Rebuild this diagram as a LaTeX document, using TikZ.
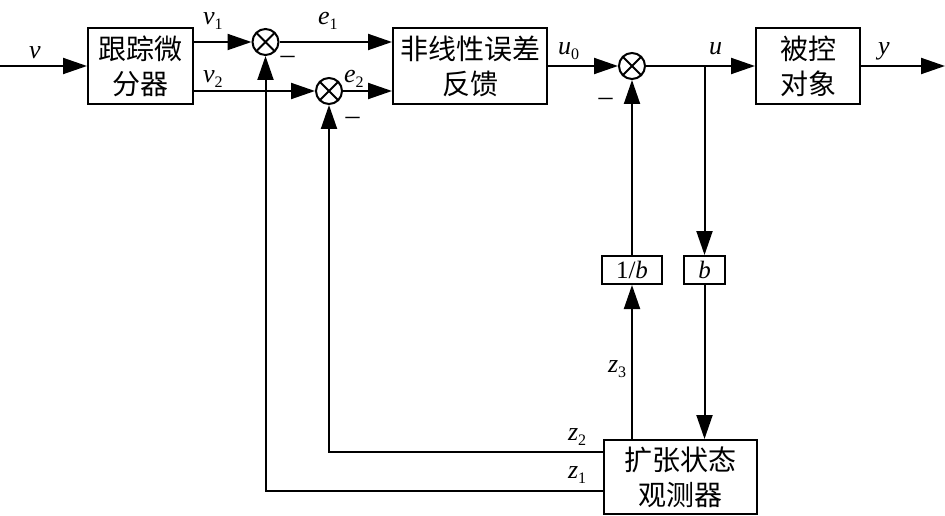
\documentclass[tikz,border=0pt]{standalone}
\usepackage{fontspec}
\setmainfont{Liberation Serif}
\newfontfamily\cjk{Noto Sans CJK SC}
\usetikzlibrary{arrows.meta,calc}
\newcommand\lab[2]{{\fontsize{26}{26}\selectfont\itshape #1}\raisebox{-5pt}{\fontsize{16}{16}\selectfont #2}}
\begin{document}
\begin{tikzpicture}[x=1pt,y=-1pt, line width=2pt,
 blk/.style={draw, inner sep=0pt, align=center, font=\cjk\fontsize{28}{35}\selectfont},
 sumnode/.style={circle, draw, minimum size=26pt, inner sep=0pt,
   path picture={\draw[line width=2pt] (path picture bounding box.north west)--(path picture bounding box.south east)
     (path picture bounding box.north east)--(path picture bounding box.south west);}},
 gain/.style={draw, inner sep=0pt, minimum height=28pt, font=\fontsize{25}{25}\selectfont},
 sig/.style={-{Triangle[length=24pt,width=16pt]}},
 lbl/.style={anchor=base west, inner sep=0pt},
 mn/.style={anchor=base, inner sep=0pt, font=\fontsize{28}{28}\selectfont}]
\useasboundingbox (0,0) rectangle (945,516);

\node[blk, minimum width=105pt, minimum height=76pt] (box1) at (140.5,66) {跟踪微\\分器};
\node[blk, minimum width=154pt, minimum height=76pt] (box2) at (470,66) {非线性误差\\反馈};
\node[blk, minimum width=104pt, minimum height=76pt] (box3) at (808,66) {被控\\对象};
\node[blk, minimum width=153pt, minimum height=74pt] (box4) at (680.5,477) {扩张状态\\观测器};

\node[sumnode] (sum1) at (265.5,42) {};
\node[sumnode] (sum2) at (329,91) {};
\node[sumnode] (sum3) at (632,66) {};

\node[gain, minimum width=60pt] (inv) at (632,270) {1/\textit{b}};
\node[gain, minimum width=41pt] (bb) at (704.5,270) {\textit{b}};

\coordinate (in) at (0,66);
\coordinate (out) at (945,66);
\coordinate (br) at (704.5,66);

% forward path
\draw[sig] (in) -- (box1.west);
\draw[sig] (box1.east |- sum1) -- (sum1.west);
\draw[sig] (box1.east |- sum2) -- (sum2.west);
\draw[sig] (sum1.east) -- (sum1 -| box2.west);
\draw[sig] (sum2.east) -- (sum2 -| box2.west);
\draw[sig] (box2.east) -- (sum3.west);
\draw[sig] (sum3.east) -- (box3.west);
\draw[sig] (box3.east) -- (out);

% observer paths
\draw[sig] (br) -- (bb.north);
\draw[sig] (bb.south) -- (bb.south |- box4.north);
\draw[sig] (box4.north -| inv.south) -- (inv.south);
\draw[sig] (inv.north) -- (sum3.south);
\draw[sig] ($(box4.west)+(0,-25)$) -| (sum2.south);
\draw[sig] ($(box4.west)+(0,14)$) -| (sum1.south);

% labels
\node[lbl] (lv) at (28,59) {\lab{v}{}};
\node[lbl] (lv1) at (202,25) {\lab{v}{1}};
\node[lbl] (lv2) at (202,83) {\lab{v}{2}};
\node[lbl] (le1) at (317,25) {\lab{e}{1}};
\node[lbl] (le2) at (343,83) {\lab{e}{2}};
\node[lbl] (lu0) at (557,55) {\lab{u}{0}};
\node[lbl] (lu) at (708,55) {\lab{u}{}};
\node[lbl] (ly) at (877,55) {\lab{y}{}};
\node[lbl] (lz3) at (607,372) {\lab{z}{3}};
\node[lbl] (lz2) at (567,440) {\lab{z}{2}};
\node[lbl] (lz1) at (567,478) {\lab{z}{1}};

\node[mn] (m1) at (287.5,63.5) {–};
\node[mn] (m2) at (352.5,124.5) {–};
\node[mn] (m3) at (605.5,105.5) {–};
\end{tikzpicture}
\end{document}
